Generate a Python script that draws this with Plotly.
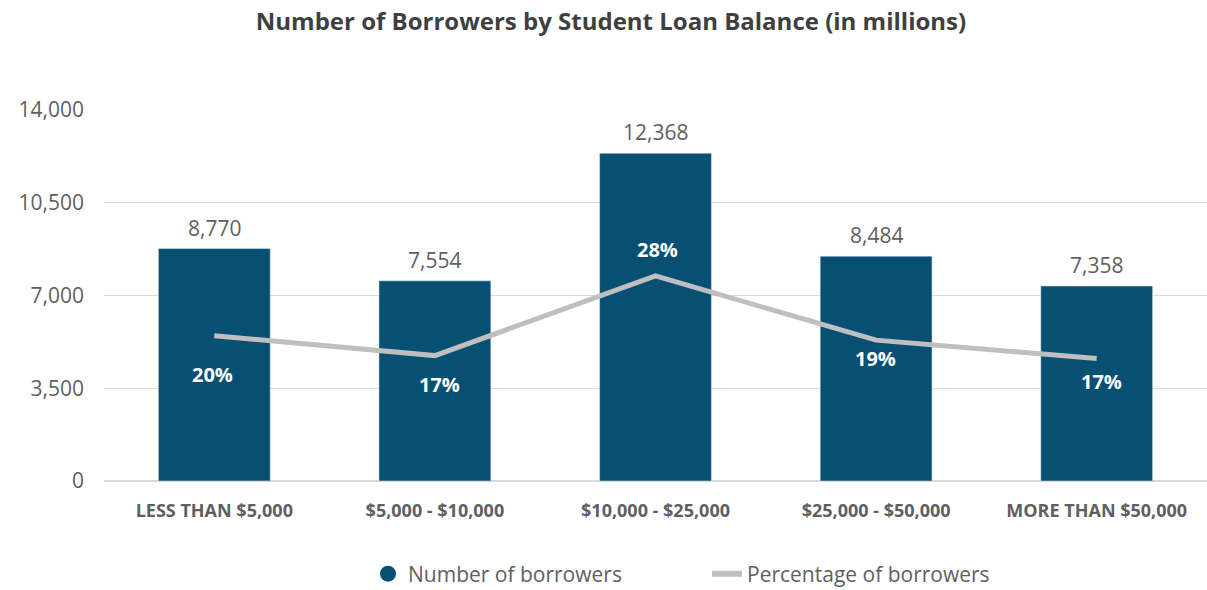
import plotly.graph_objects as go

# Student loan balance buckets and borrower counts
categories = ["LESS THAN $5,000", "$5,000 - $10,000", "$10,000 - $25,000",
              "$25,000 - $50,000", "MORE THAN $50,000"]
borrowers = [8770, 7554, 12368, 8484, 7358]
pct_borrowers = [0.197, 0.170, 0.278, 0.191, 0.166]

y_ticks = [0, 3500, 7000, 10500, 14000]

BAR_COLOR = "#074F73"
LINE_COLOR = "#BFBFBF"
TEXT_GRAY = "#5F5F5F"
FONT = "Open Sans"

# label offsets (pixels) for the percentage labels
pct_yshift = [-39, -29, 26, -18, -23]
pct_xshift = [-2, 5, 2, -1, 5]

fig = go.Figure()

fig.add_trace(go.Bar(
    x=categories, y=borrowers, marker_color=BAR_COLOR,
    showlegend=False, width=0.507,
))

fig.add_trace(go.Scatter(
    x=categories, y=pct_borrowers, yaxis="y2", mode="lines",
    line=dict(color=LINE_COLOR, width=5), showlegend=False,
))

# legend-only entries
fig.add_trace(go.Scatter(
    x=[None], y=[None], mode="markers", name="Number of borrowers",
    marker=dict(symbol="circle", size=18, color=BAR_COLOR),
))
fig.add_trace(go.Scatter(
    x=[None], y=[None], mode="lines", name="Percentage of borrowers",
    line=dict(color=LINE_COLOR, width=6),
))

annotations = []
for c, v in zip(categories, borrowers):
    annotations.append(dict(
        x=c, y=v, xref="x", yref="y", text=f"{v:,}", showarrow=False,
        yanchor="bottom", yshift=5,
        font=dict(family=FONT, size=21, color=TEXT_GRAY),
    ))
for c, p, dy, dx in zip(categories, pct_borrowers, pct_yshift, pct_xshift):
    annotations.append(dict(
        x=c, y=p, xref="x", yref="y2", text=f"{round(p * 100)}%", showarrow=False,
        yanchor="middle", yshift=dy, xshift=dx,
        font=dict(family=FONT, size=20, color="white", weight="bold"),
    ))

fig.update_layout(
    width=1207, height=590,
    margin=dict(l=104, r=0, t=110, b=109, autoexpand=False),
    paper_bgcolor="white", plot_bgcolor="white",
    title=dict(
        text="<b>Number of Borrowers by Student Loan Balance (in millions)</b>",
        x=611 / 1207, xanchor="center", xref="container",
        y=1 - 22 / 590, yanchor="middle", yref="container",
        font=dict(family=FONT, size=24, color="#3F3F3F"),
    ),
    xaxis=dict(
        showgrid=False, showline=False, ticks="",
        tickfont=dict(family=FONT, size=18, color=TEXT_GRAY, weight="bold"),
        ticklabelstandoff=17,
    ),
    yaxis=dict(
        range=[0, 14000], tickvals=y_ticks, tickformat=",",
        showgrid=True, gridcolor="#D9D9D9", gridwidth=1,
        zeroline=True, zerolinecolor="#D9D9D9", zerolinewidth=2,
        showline=False, ticks="",
        tickfont=dict(family=FONT, size=21, color=TEXT_GRAY),
        ticklabelstandoff=19,
    ),
    yaxis2=dict(
        range=[0, 0.503], overlaying="y", side="right", visible=False,
    ),
    legend=dict(
        orientation="h", xref="container", x=368 / 1207, xanchor="left",
        yref="container", y=16 / 590, yanchor="middle",
        font=dict(family=FONT, size=21, color=TEXT_GRAY),
        itemwidth=30, entrywidth=294, entrywidthmode="pixels",
    ),
    annotations=annotations,
    bargap=0.49,
)

fig.write_html("out.html")
